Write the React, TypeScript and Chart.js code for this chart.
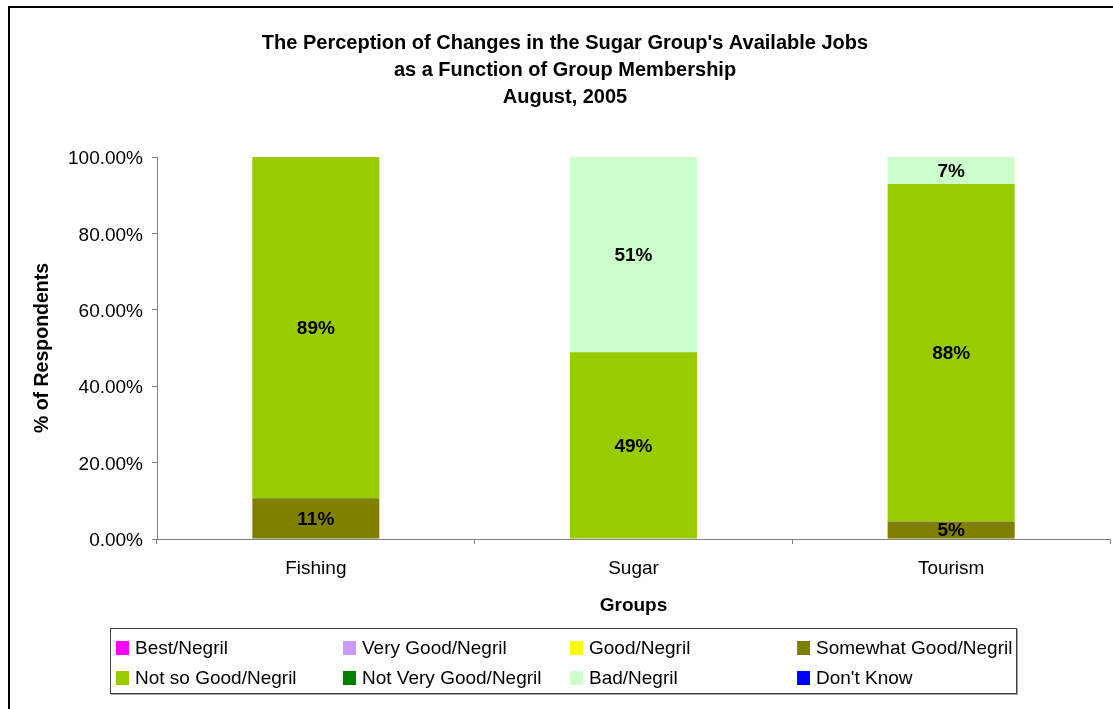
import React, { useEffect, useRef } from 'react';
import { Chart, registerables } from 'chart.js';

Chart.register(...registerables);

const FONT = '"Liberation Sans", Arial, Helvetica, sans-serif';

const titleLines = [
  "The Perception of Changes in the Sugar Group's Available Jobs",
  'as a Function of Group Membership',
  'August, 2005',
];
const categories = ['Fishing', 'Sugar', 'Tourism'];
const seriesNames = [
  'Best/Negril',
  'Very Good/Negril',
  'Good/Negril',
  'Somewhat Good/Negril',
  'Not so Good/Negril',
  'Not Very Good/Negril',
  'Bad/Negril',
  "Don't Know",
];
const seriesColors = ['#FF00FF', '#CC99FF', '#FFFF00', '#808000', '#99CC00', '#008000', '#CCFFCC', '#0000FF'];

const best = [0, 0, 0];
const veryGood = [0, 0, 0];
const good = [0, 0, 0];
const somewhatGood = [10.7, 0, 4.6];
const notSoGood = [89.3, 48.9, 88.3];
const notVeryGood = [0, 0, 0];
const bad = [0, 51.1, 7.1];
const dontKnow = [0, 0, 0];
const seriesValues = [best, veryGood, good, somewhatGood, notSoGood, notVeryGood, bad, dontKnow];

const yMax = 100;
const yStep = 20;
const yTitle = '% of Respondents';
const xTitle = 'Groups';

const segmentLabels = {
  id: 'segmentLabels',
  afterDatasetsDraw(chart: any) {
    const ctx = chart.ctx;
    ctx.save();
    ctx.font = `bold 19px ${FONT}`;
    ctx.fillStyle = '#000';
    ctx.textAlign = 'center';
    ctx.textBaseline = 'middle';
    chart.data.datasets.forEach((ds: any, i: number) => {
      const meta = chart.getDatasetMeta(i);
      meta.data.forEach((el: any, j: number) => {
        const v = ds.data[j];
        if (!v) return;
        ctx.fillText(Math.round(v) + '%', el.x, (el.y + el.base) / 2 + 1);
      });
    });
    ctx.restore();
  },
};

export default function App() {
  const ref = useRef<HTMLCanvasElement>(null);

  useEffect(() => {
    if (!ref.current) return;
    const chart = new Chart(ref.current, {
      type: 'bar',
      data: {
        labels: categories,
        datasets: seriesNames.map((name, i) => ({
          label: name,
          data: seriesValues[i],
          backgroundColor: seriesColors[i],
          borderWidth: 0,
          categoryPercentage: 1,
          barPercentage: 0.4,
        })),
      },
      options: {
        responsive: false,
        animation: false,
        layout: { padding: { left: 20, right: 3, top: 0, bottom: 90 } },
        plugins: {
          legend: { display: false },
          tooltip: { enabled: false },
          title: {
            display: true,
            text: titleLines,
            color: '#000',
            font: { family: FONT, size: 20, weight: 'bold', lineHeight: 1.35 },
            padding: { top: 30, bottom: 46 },
          },
        },
        scales: {
          x: {
            stacked: true,
            afterFit: (s: any) => {
              s.height = 80;
            },
            grid: {
              drawOnChartArea: false,
              drawTicks: true,
              tickLength: 5,
              color: '#808080',
              offset: true,
            },
            border: { color: '#808080' },
            ticks: { color: '#000', font: { family: FONT, size: 19 }, padding: 13 },
            title: {
              display: true,
              text: xTitle,
              color: '#000',
              font: { family: FONT, size: 19, weight: 'bold' },
              padding: { top: 0, bottom: 2 },
            },
          },
          y: {
            stacked: true,
            min: 0,
            max: yMax,
            afterFit: (s: any) => {
              s.width = 137;
            },
            grid: {
              drawOnChartArea: false,
              drawTicks: true,
              tickLength: 5,
              color: '#808080',
            },
            border: { color: '#808080' },
            ticks: {
              stepSize: yStep,
              color: '#000',
              font: { family: FONT, size: 19 },
              padding: 9,
              labelOffset: 2,
              callback: (v: any) => Number(v).toFixed(2) + '%',
            },
            title: {
              display: true,
              text: yTitle,
              color: '#000',
              font: { family: FONT, size: 19.5, weight: 'bold' },
              padding: { top: 11, bottom: 0 },
            },
          },
        },
      } as any,
      plugins: [segmentLabels],
    });
    return () => chart.destroy();
  }, []);

  return (
    <div
      style={{
        position: 'fixed',
        left: 0,
        top: 0,
        width: 1113,
        height: 709,
        overflow: 'hidden',
        background: '#fff',
      }}
    >
      <canvas ref={ref} width={1113} height={709} style={{ position: 'absolute', left: 0, top: 0 }} />
      <div
        style={{
          position: 'absolute',
          left: 8,
          top: 6,
          width: 1300,
          height: 900,
          border: '2px solid #000',
          boxSizing: 'border-box',
          pointerEvents: 'none',
        }}
      />
      <div
        style={{
          position: 'absolute',
          left: 110,
          top: 628,
          width: 907,
          height: 66,
          boxSizing: 'border-box',
          border: '1px solid #404040',
          boxShadow: '1px 1px 0 #a0a0a0',
          background: '#fff',
          paddingLeft: 5,
          paddingTop: 4,
          display: 'grid',
          gridTemplateColumns: 'repeat(4, 227px)',
          gridAutoRows: '30px',
          fontFamily: FONT,
          fontSize: 19,
          color: '#000',
        }}
      >
        {seriesNames.map((name, i) => (
          <div key={name} style={{ display: 'flex', alignItems: 'center', whiteSpace: 'nowrap' }}>
            <span
              style={{
                display: 'inline-block',
                width: 13,
                height: 14,
                background: seriesColors[i],
                marginRight: 6,
                flex: '0 0 auto',
              }}
            />
            <span>{name}</span>
          </div>
        ))}
      </div>
    </div>
  );
}
